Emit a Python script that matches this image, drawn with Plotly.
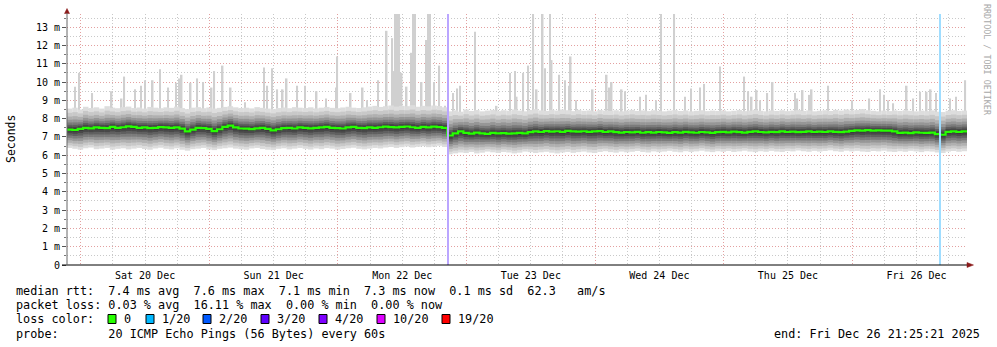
import plotly.graph_objects as go
from datetime import datetime, timedelta

# ---------------- data ----------------
START = datetime(2025, 12, 19, 21, 25, 21)
END = datetime(2025, 12, 26, 21, 25, 21)
BIN_HOURS = 1  # one value per hour, 168 hours

# median rtt per hour (ms)
median_ms = [
    7.40, 7.38, 7.44, 7.50, 7.47, 7.52, 7.50, 7.48, 7.55, 7.50,
    7.53, 7.58, 7.55, 7.50, 7.52, 7.48, 7.50, 7.54, 7.52, 7.50,
    7.52, 7.45, 7.30, 7.40, 7.50, 7.48, 7.44, 7.32, 7.42, 7.55,
    7.62, 7.52, 7.46, 7.45, 7.43, 7.47, 7.50, 7.44, 7.36, 7.42,
    7.48, 7.50, 7.46, 7.52, 7.50, 7.47, 7.50, 7.52, 7.55, 7.50,
    7.48, 7.46, 7.52, 7.55, 7.50, 7.48, 7.52, 7.50, 7.53, 7.56,
    7.54, 7.52, 7.55, 7.57, 7.53, 7.50, 7.55, 7.52, 7.56, 7.54, 7.50,
    7.08, 7.20, 7.30, 7.22, 7.18, 7.24, 7.20, 7.17, 7.22, 7.19,
    7.21, 7.18, 7.20, 7.22, 7.19, 7.26, 7.30, 7.27, 7.32, 7.29,
    7.31, 7.28, 7.33, 7.30, 7.29, 7.31, 7.28, 7.30, 7.32, 7.27,
    7.30, 7.26, 7.24, 7.27, 7.25, 7.28, 7.23, 7.26, 7.24, 7.27,
    7.25, 7.22, 7.26, 7.24, 7.28, 7.25, 7.23, 7.27, 7.25, 7.22,
    7.26, 7.28, 7.25, 7.29, 7.26, 7.24, 7.28, 7.30, 7.27, 7.25,
    7.28, 7.26, 7.30, 7.27, 7.29, 7.26, 7.28, 7.30, 7.27, 7.29,
    7.27, 7.30, 7.28, 7.26, 7.29, 7.33, 7.36, 7.34, 7.37, 7.35,
    7.36, 7.34, 7.35, 7.30, 7.22, 7.24, 7.21, 7.25, 7.23, 7.22,
    7.24, 7.15, 7.12, 7.28, 7.30, 7.27, 7.30,
]

# lowest ping per hour (ms)
smoke_lo_ms = [
    6.40, 6.35, 6.30, 6.38, 6.42, 6.33, 6.36, 6.40, 6.30, 6.35,
    6.38, 6.32, 6.36, 6.40, 6.34, 6.30, 6.37, 6.41, 6.35, 6.32,
    6.38, 6.30, 6.25, 6.33, 6.36, 6.40, 6.31, 6.28, 6.35, 6.38,
    6.42, 6.36, 6.33, 6.30, 6.37, 6.40, 6.34, 6.30, 6.28, 6.35,
    6.38, 6.32, 6.36, 6.40, 6.35, 6.31, 6.37, 6.33, 6.39, 6.36,
    6.30, 6.34, 6.38, 6.41, 6.35, 6.32, 6.36, 6.40, 6.37, 6.42,
    6.45, 6.40, 6.44, 6.48, 6.42, 6.46, 6.50, 6.44, 6.47, 6.52, 6.45,
    6.05, 6.10, 6.15, 6.12, 6.18, 6.10, 6.14, 6.20, 6.16, 6.12,
    6.18, 6.15, 6.10, 6.14, 6.20, 6.17, 6.12, 6.16, 6.19, 6.14,
    6.10, 6.15, 6.18, 6.13, 6.17, 6.20, 6.15, 6.12, 6.18, 6.22,
    6.17, 6.14, 6.20, 6.16, 6.19, 6.23, 6.18, 6.15, 6.21, 6.17,
    6.20, 6.24, 6.19, 6.16, 6.22, 6.18, 6.21, 6.25, 6.20, 6.17,
    6.22, 6.19, 6.23, 6.18, 6.21, 6.25, 6.20, 6.17, 6.22, 6.19,
    6.24, 6.20, 6.18, 6.23, 6.21, 6.26, 6.22, 6.19, 6.24, 6.20,
    6.23, 6.27, 6.22, 6.19, 6.25, 6.21, 6.24, 6.20, 6.18, 6.23,
    6.21, 6.25, 6.20, 6.18, 6.22, 6.19, 6.24, 6.21, 6.17, 6.22,
    6.20, 6.15, 6.12, 6.20, 6.23, 6.19, 6.22,
]

# typical highest ping per hour, without the isolated spikes (ms)
smoke_hi_ms = [
    8.55, 8.60, 8.50, 8.65, 8.58, 8.62, 8.55, 8.68, 8.60, 8.57,
    8.63, 8.66, 8.58, 8.61, 8.55, 8.64, 8.60, 8.57, 8.62, 8.59,
    8.66, 8.58, 8.52, 8.60, 8.63, 8.57, 8.61, 8.55, 8.59, 8.64,
    8.68, 8.62, 8.58, 8.60, 8.56, 8.63, 8.59, 8.55, 8.52, 8.58,
    8.61, 8.57, 8.63, 8.60, 8.58, 8.62, 8.56, 8.60, 8.64, 8.59,
    8.57, 8.61, 8.65, 8.60, 8.58, 8.62, 8.66, 8.70, 8.64, 8.68,
    8.72, 8.66, 8.70, 8.68, 8.74, 8.65, 8.70, 8.67, 8.72, 8.69, 8.62,
    8.40, 8.45, 8.38, 8.50, 8.42, 8.47, 8.40, 8.44, 8.48, 8.41,
    8.46, 8.43, 8.50, 8.44, 8.40, 8.47, 8.52, 8.45, 8.42, 8.48,
    8.44, 8.50, 8.46, 8.41, 8.48, 8.43, 8.45, 8.40, 8.47, 8.44,
    8.42, 8.46, 8.40, 8.44, 8.48, 8.42, 8.45, 8.41, 8.46, 8.43,
    8.40, 8.44, 8.47, 8.42, 8.45, 8.40, 8.43, 8.46, 8.41, 8.44,
    8.42, 8.45, 8.40, 8.43, 8.47, 8.41, 8.44, 8.48, 8.43, 8.40,
    8.45, 8.42, 8.46, 8.41, 8.44, 8.47, 8.42, 8.45, 8.40, 8.43,
    8.46, 8.42, 8.48, 8.44, 8.50, 8.45, 8.47, 8.52, 8.46, 8.43,
    8.40, 8.44, 8.41, 8.45, 8.42, 8.46, 8.43, 8.40, 8.44, 8.41,
    8.45, 8.38, 8.36, 8.43, 8.46, 8.42, 8.44,
]

# isolated high pings: hours after START, and their peak (ms)
spike_hours = [
    1.49, 2.30, 4.72, 8.34, 10.21, 10.70, 12.69, 13.81, 14.56, 16.00,
    17.36, 18.91, 20.35, 20.91, 21.41, 23.09, 24.32, 25.44, 27.01, 27.50,
    29.06, 30.56, 33.23, 36.77, 37.39, 38.32, 39.26, 40.27, 41.01, 42.99,
    44.43, 46.61, 48.35, 50.21, 50.46, 52.96, 55.20, 56.00, 58.11, 59.68,
    60.72, 60.91, 61.23, 61.66, 62.03, 62.48, 63.41, 64.35, 64.64, 64.96,
    66.21, 67.15, 67.44, 67.76, 68.51, 69.50, 70.56, 72.11, 72.86, 73.36,
    76.16, 80.21, 82.70, 83.63, 83.95, 85.18, 86.11, 87.04, 87.68, 88.80,
    89.23, 90.16, 90.48, 91.90, 92.96, 93.71, 94.03, 95.02, 98.13, 100.75,
    101.23, 101.68, 103.55, 104.16, 106.96, 108.08, 109.95, 110.88, 113.36, 115.36,
    116.48, 118.16, 118.96, 121.90, 126.43, 127.18, 127.81, 128.75, 129.36, 130.73,
    131.73, 135.90, 136.33, 137.33, 138.57, 139.01, 142.11, 146.59, 149.77, 151.76,
    152.51, 153.31, 154.24, 156.75, 157.98, 159.23, 160.48, 161.23, 162.22, 164.83,
    165.95, 167.69,
]
spike_peak_ms = [
    9.74, 10.5, 9.4, 9.5, 9.1, 10.3, 9.6, 9.8, 10.1, 10.1,
    10.7, 9.7, 9.96, 10.2, 10.4, 9.96, 10.2, 10.0, 9.7, 10.6,
    10.9, 9.7, 8.9, 10.8, 9.8, 10.75, 9.6, 9.6, 10.2, 9.8,
    9.8, 9.5, 9.1, 9.7, 11.4, 9.4, 9.7, 9.0, 10.1, 12.8,
    12.4, 10.6, 14.0, 14.0, 14.0, 10.5, 9.75, 11.6, 14.0, 14.0,
    10.0, 12.3, 14.0, 14.0, 10.0, 10.9, 8.7, 9.4, 9.65, 9.8,
    12.75, 8.7, 10.5, 10.6, 9.2, 10.5, 10.9, 14.0, 9.6, 14.0,
    10.75, 14.0, 11.2, 10.4, 10.1, 9.8, 11.4, 9.0, 9.6, 10.4,
    9.7, 10.0, 9.6, 9.5, 9.2, 9.3, 9.0, 14.0, 14.0, 9.2,
    9.65, 9.7, 9.9, 10.85, 10.3, 9.5, 9.2, 9.56, 9.0, 9.4,
    10.0, 9.4, 9.1, 9.56, 9.3, 9.6, 9.8, 9.0, 9.1, 9.6,
    9.3, 9.0, 8.84, 9.8, 9.1, 9.47, 9.47, 9.6, 9.4, 9.1,
    9.2, 10.1,
]

# packet-loss events (hours after START) and their loss colour
loss_event_hours = [71.12, 162.96]
loss_event_colors = ["#bba6ff", "#a0ddff"]

y_tick_vals = [0, 1, 2, 3, 4, 5, 6, 7, 8, 9, 10, 11, 12, 13]
y_tick_text = ["0", "1 m", "2 m", "3 m", "4 m", "5 m", "6 m", "7 m",
               "8 m", "9 m", "10 m", "11 m", "12 m", "13 m"]

loss_labels = ["0", "1/20", "2/20", "3/20", "4/20", "10/20", "19/20"]
loss_colors = ["#26ff00", "#00b8ff", "#0059ff", "#5e00ff", "#7e00ff", "#dd00ff", "#ff0000"]

stat_lines = [
    "median rtt:  7.4 ms avg  7.6 ms max  7.1 ms min  7.3 ms now  0.1 ms sd  62.3   am/s",
    "packet loss: 0.03 % avg  16.11 % max  0.00 % min  0.00 % now",
    "loss color:",
    "probe:       20 ICMP Echo Pings (56 Bytes) every 60s",
]
end_text = "end: Fri Dec 26 21:25:21 2025"
y_title = "Seconds"
watermark = "RRDTOOL / TOBI OETIKER"

# ---------------- layout helpers (pixel -> paper) ----------------
W, H = 997, 347
ML, MR, MT, MB = 67, 30, 14, 82
PW, PH = W - ML - MR, H - MT - MB


def px(x):
    return (x - ML) / PW


def py(y):
    return (H - MB - y) / PH


MONO = "DejaVu Sans Mono"
LEG_SIZE = 11.8

n = len(median_ms)
bin_start = [START + timedelta(hours=i * BIN_HOURS) for i in range(n)]
bin_mid = [t + timedelta(minutes=30 * BIN_HOURS) for t in bin_start]
BIN_MS = BIN_HOURS * 3600000 * 1.02

fig = go.Figure()

# spikes (lightest smoke above the main band)
spike_x = [START + timedelta(hours=h) for h in spike_hours]
spike_base = 8.0
fig.add_trace(go.Bar(
    x=spike_x, y=[p - spike_base for p in spike_peak_ms], base=spike_base,
    width=0.28 * 3600000, marker=dict(color="#d0d0d0", line=dict(width=0)),
    hoverinfo="skip",
))

# smoke layers, from outer (light) to inner (dark)
shade_layers = [
    (1.00, 1.00, "#dddddd"),
    (0.86, 0.80, "#c8c8c8"),
    (0.72, 0.62, "#b0b0b0"),
    (0.58, 0.47, "#969696"),
    (0.45, 0.34, "#7b7b7b"),
    (0.32, 0.23, "#606060"),
    (0.20, 0.14, "#484848"),
    (0.09, 0.06, "#373737"),
]
for f_lo, f_hi, col in shade_layers:
    lower = [m - f_lo * (m - lo) for m, lo in zip(median_ms, smoke_lo_ms)]
    upper = [m + f_hi * (hi - m) for m, hi in zip(median_ms, smoke_hi_ms)]
    fig.add_trace(go.Bar(
        x=bin_mid, y=[u - l for u, l in zip(upper, lower)], base=lower,
        width=BIN_MS, marker=dict(color=col, line=dict(width=0)),
        hoverinfo="skip",
    ))

# median line (loss 0 colour)
fig.add_trace(go.Scatter(
    x=bin_start + [END], y=median_ms + [median_ms[-1]],
    mode="lines", line=dict(color=loss_colors[0], width=2.2, shape="hv"),
    hoverinfo="skip",
))

shapes = []
for h, col in zip(loss_event_hours, loss_event_colors):
    t = START + timedelta(hours=h)
    shapes.append(dict(type="line", xref="x", yref="paper", x0=t, x1=t, y0=0, y1=1,
                       line=dict(color=col, width=2), layer="above"))

# x axis line with arrow
shapes.append(dict(type="line", xref="paper", yref="paper", x0=px(62), x1=px(968),
                   y0=0, y1=0, line=dict(color="#000000", width=1), layer="above"))
shapes.append(dict(type="path", xref="paper", yref="paper",
                   path=f"M {px(967)} {py(262.5)} L {px(973.5)} {py(265)} L {px(967)} {py(267.5)} Z",
                   fillcolor="#8b1a1a", line=dict(color="#8b1a1a", width=0.5), layer="above"))
# y axis arrow
shapes.append(dict(type="path", xref="paper", yref="paper",
                   path=f"M {px(64.5)} {py(13.5)} L {px(67)} {py(8.5)} L {px(69.5)} {py(13.5)} Z",
                   fillcolor="#8b1a1a", line=dict(color="#8b1a1a", width=0.5), layer="above"))
shapes.append(dict(type="line", xref="paper", yref="paper", x0=0, x1=0,
                   y0=0, y1=py(13), line=dict(color="#666666", width=1), layer="above"))

annotations = []
line_y = [291, 305, 319, 333.5]
for txt, yy in zip(stat_lines, line_y):
    annotations.append(dict(xref="paper", yref="paper", x=px(14), y=py(yy),
                            xanchor="left", yanchor="middle", showarrow=False,
                            text=txt.replace(" ", "\u00a0"),
                            font=dict(family=MONO, size=LEG_SIZE, color="#000000")))
annotations.append(dict(xref="paper", yref="paper", x=px(982), y=py(333.5),
                        xanchor="right", yanchor="middle", showarrow=False,
                        text=end_text.replace(" ", "\u00a0"),
                        font=dict(family=MONO, size=LEG_SIZE, color="#000000")))

# loss colour legend
loss_sq_x = [108, 146, 203, 261, 319, 377, 442]
for lab, col, sx in zip(loss_labels, loss_colors, loss_sq_x):
    shapes.append(dict(type="rect", xref="paper", yref="paper",
                       x0=px(sx), x1=px(sx + 8), y0=py(323.5), y1=py(314.5),
                       fillcolor=col, line=dict(color="#000000", width=1)))
    annotations.append(dict(xref="paper", yref="paper", x=px(sx + 14), y=py(319),
                            xanchor="left", yanchor="middle", showarrow=False,
                            text=lab, font=dict(family=MONO, size=LEG_SIZE, color="#000000")))

annotations.append(dict(xref="paper", yref="paper", x=px(11), y=py(139),
                        xanchor="center", yanchor="middle", showarrow=False, textangle=-90,
                        text=y_title, font=dict(family=MONO, size=11.5, color="#000000")))
annotations.append(dict(xref="paper", yref="paper", x=px(987), y=py(60),
                        xanchor="center", yanchor="middle", showarrow=False, textangle=90,
                        text=watermark.replace(" ", "\u00a0"),
                        font=dict(family=MONO, size=8.4, color="#a8a8a8")))

fig.update_layout(
    width=W, height=H,
    margin=dict(l=ML, r=MR, t=MT, b=MB, pad=0),
    paper_bgcolor="#ffffff", plot_bgcolor="#ffffff",
    barmode="overlay", showlegend=False, hovermode=False,
    shapes=shapes, annotations=annotations,
    xaxis=dict(
        type="date", range=[START, END],
        tick0="2025-12-20 00:00:00", dtick=86400000,
        tickformat="%a %d %b", ticklabelmode="period", ticks="",
        ticklabelstandoff=3,
        showgrid=True, gridcolor="#e3a0a0", griddash="1px,2px", gridwidth=1,
        minor=dict(dtick=21600000, tick0="2025-12-20 00:00:00", showgrid=True,
                   gridcolor="#c9c9c9", griddash="1px,2px", gridwidth=1),
        showline=False, zeroline=False,
        tickfont=dict(family=MONO, size=10, color="#000000"),
        fixedrange=True,
    ),
    yaxis=dict(
        range=[0, 13.72], tickmode="array", tickvals=y_tick_vals, ticktext=y_tick_text,
        ticks="outside", ticklen=4, tickcolor="#555555", tickwidth=1,
        showgrid=True, gridcolor="#e3a0a0", griddash="1px,2px", gridwidth=1,
        minor=dict(dtick=0.5, showgrid=True, gridcolor="#c9c9c9", griddash="1px,2px",
                   ticks="outside", ticklen=2, tickcolor="#777777"),
        showline=False, zeroline=False,
        tickfont=dict(family=MONO, size=10, color="#000000"),
        fixedrange=True,
    ),
)

fig.write_html("out.html", config={"displayModeBar": False})
